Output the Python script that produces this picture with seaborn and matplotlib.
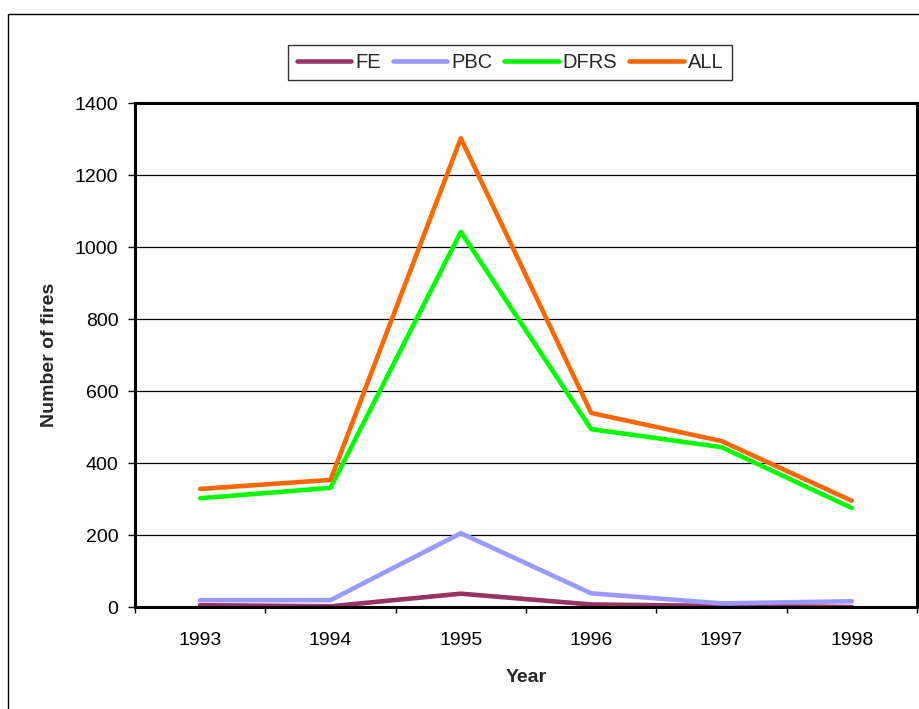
import seaborn as sns
import matplotlib.pyplot as plt
import pandas as pd
from matplotlib.patches import Rectangle
from matplotlib.ticker import FixedLocator, NullFormatter

years = ["1993", "1994", "1995", "1996", "1997", "1998"]
fe = [5, 2, 37, 7, 3, 0]
pbc = [19, 19, 205, 38, 10, 16]
dfrs = [302, 331, 1042, 494, 444, 275]
all_fires = [328, 353, 1302, 539, 461, 295]

series = ["FE", "PBC", "DFRS", "ALL"]
colors = ["#993366", "#9999FF", "#00FF00", "#FF6600"]

rows = []
for name, vals in zip(series, [fe, pbc, dfrs, all_fires]):
    for i, v in enumerate(vals):
        rows.append({"pos": i, "Year": years[i], "fires": v, "series": name})
df = pd.DataFrame(rows)

sns.set_theme(style="white")
plt.rcParams['font.family'] = ['Liberation Sans', 'DejaVu Sans']

fig = plt.figure(figsize=(9.2, 7.09), dpi=100)
ax = fig.add_axes([135 / 920, 1 - 607 / 709, (917 - 135) / 920, (607 - 103) / 709])

sns.lineplot(data=df, x="pos", y="fires", hue="series", hue_order=series,
             palette=colors, linewidth=3.3, ax=ax, legend=False, zorder=2)

ax.set_xlim(-0.5, 5.5)
ax.set_ylim(0, 1400)
ax.set_yticks(range(0, 1401, 200))
ax.tick_params(axis="y", labelsize=14, direction="out", length=5, width=1, left=True, pad=7, colors="black")
ax.yaxis.grid(True, color="black", linewidth=0.9, zorder=0)
ax.set_axisbelow(True)

ax.set_xticks(range(len(years)))
ax.set_xticklabels(years)
ax.tick_params(axis="x", which="major", length=0, labelsize=14, pad=18, colors="black")
ax.xaxis.set_minor_locator(FixedLocator([i - 0.5 for i in range(len(years) + 1)]))
ax.xaxis.set_minor_formatter(NullFormatter())
ax.tick_params(axis="x", which="minor", direction="out", length=4.5, width=1, bottom=True, colors="black")

for s in ax.spines.values():
    s.set_color("black")
    s.set_linewidth(2.2)
    s.set_zorder(5)

ax.set_xlabel("Year", fontsize=14, fontweight="bold")
ax.set_ylabel("Number of fires", fontsize=14, fontweight="bold")
ax.xaxis.set_label_coords(0.5, -0.123)
ax.yaxis.set_label_coords(-0.098, 0.5)

handles = [plt.Line2D([], [], color=c, linewidth=3.3) for c in colors]
leg = fig.legend(handles, series, loc="center", bbox_to_anchor=(510 / 920, 1 - 62.5 / 709),
                 ncol=4, fontsize=14.5, frameon=True, fancybox=False, edgecolor="black",
                 handlelength=2.7, handletextpad=0.2, columnspacing=0.6,
                 borderpad=0.4, borderaxespad=0)
leg.get_frame().set_linewidth(1.0)

fig.patches.append(Rectangle((8 / 920, -0.05), 1.1, 1 - 14 / 709 + 0.05,
                             transform=fig.transFigure, fill=False,
                             edgecolor="black", linewidth=1.0))

fig.savefig("out.png", dpi=100)
